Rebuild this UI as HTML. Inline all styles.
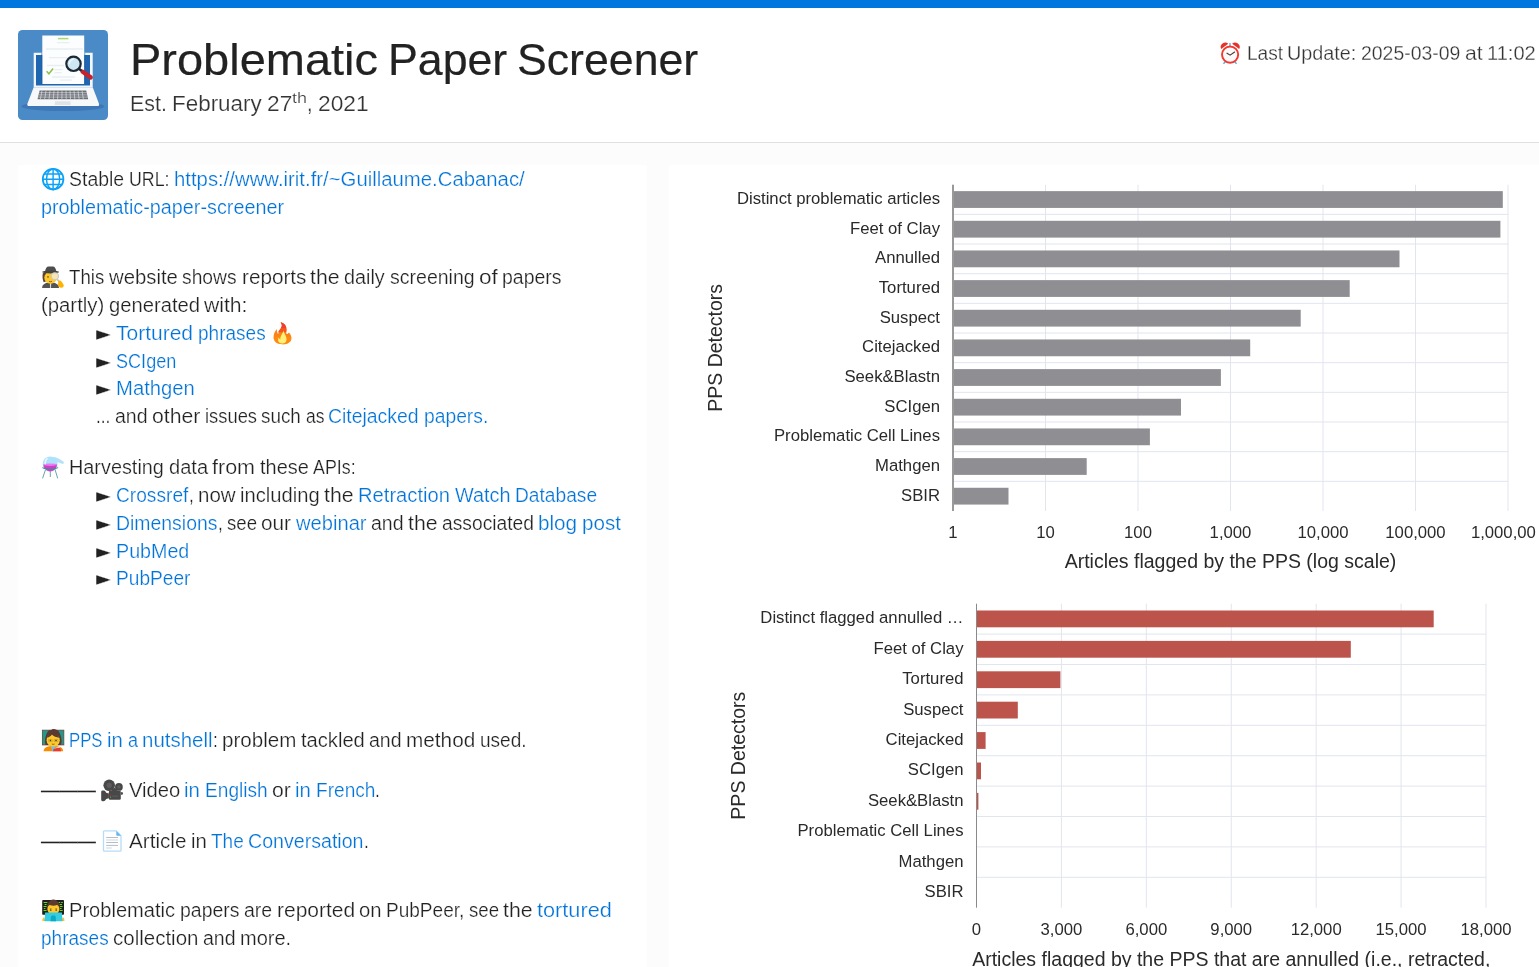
<!DOCTYPE html>
<html lang="en"><head><meta charset="utf-8"><title>Problematic Paper Screener</title>
<style>

html,body{margin:0;padding:0;}
body{width:1539px;height:967px;overflow:hidden;background:#fcfcfc;font-family:"Liberation Sans", sans-serif;color:#222;font-size:19.5px;line-height:27.86px;position:relative;word-spacing:-0.0487em;-webkit-text-stroke:0.245px #fff;}
a{color:#0074d9;text-decoration:none;}
.topbar{position:absolute;left:0;top:0;width:1539px;height:8px;background:#0077de;}
header{position:absolute;left:0;top:8px;width:1539px;height:134px;background:#fff;border-bottom:1px solid #e0e0e0;}
h1{position:absolute;left:130px;top:25px;margin:0;font-weight:400;font-size:44px;line-height:54px;white-space:pre;color:#222;-webkit-text-stroke:0.2px #222;word-spacing:-0.0487em;}
.sub{position:absolute;left:130px;top:81px;font-size:22.4px;line-height:30px;white-space:pre;color:#333;-webkit-text-stroke-width:0.2px;word-spacing:-0.0487em;}
.sub sup{font-size:15.5px;line-height:0;}
.upd{position:absolute;right:3.2px;top:31px;font-size:19.5px;line-height:28px;white-space:pre;color:#333;-webkit-text-stroke-width:0.27px;}
.card{position:absolute;top:165px;background:#fff;border-radius:3px;}
#left{left:18px;width:629px;height:820px;}
#right{left:669px;width:900px;height:820px;}
.ln{position:absolute;white-space:pre;height:27.86px;}
.w{display:inline-block;transform-origin:0 50%;white-space:pre;}
.p{font-family:"DejaVu Sans", sans-serif;margin-right:0.8px;}
.d{display:inline-block;width:54.7px;height:20px;vertical-align:baseline;}
.d span{display:inline-block;transform:scaleX(0.9385);transform-origin:0 50%;-webkit-text-stroke:0.15px #222;}
.e{display:inline-block;width:24px;height:1px;position:relative;}
.e svg{position:absolute;left:0;top:-18px;overflow:visible;}
#charts{position:absolute;left:0;top:0;word-spacing:0;-webkit-text-stroke:0;}

</style></head>
<body>
<div class="topbar"></div>
<header>
<svg id="logo" width="90" height="90" viewBox="0 0 90 90" style="position:absolute;left:18px;top:22px">
<rect width="90" height="90" rx="4.500" fill="#498ac7"/>
<g style="filter:blur(0.3px)">
<ellipse cx="45" cy="76.300" rx="41.500" ry="4.800" fill="#3e76b6"/>
<path d="M15.700 22.800h59v34.400h-59z" fill="#f4f7fa"/>
<path d="M18 25h54v30.600H18z" fill="#1f66b1"/>
<path d="M24.300 5.400h41.900V54H24.300z" fill="#fbfdfe"/>
<path d="M23.200 23h1.100v31h-1.100zM66.200 23h1.100v31h-1.100z" fill="#1a5a9e" opacity=".55"/>
<path d="M40 8.600h10.400" stroke="#a8da6c" stroke-width="1.500"/>
<path d="M39 12.600h12.500M28 19h37M31 27.600h18M29 35.500h17M36.500 39.600h8M36.500 42.600h7M34 47h23M42 50.200h12" stroke="#e9eef2" stroke-width="1.300"/>
<path d="M28.600 41.200l2.300 2.600 4.200-5.300" fill="none" stroke="#8bc34a" stroke-width="1.500"/>
<path d="M15.700 57.200h59l6.300 16.600c.5 1.400-.3 2.300-1.700 2.300H11.100c-1.400 0-2.200-.9-1.700-2.300z" fill="#f7f8fa"/>
<path d="M21.600 60.600h46.600l2 8.600H19.500z" fill="#6a6f76"/>
<path d="M21.400 62.700h47.300M20.800 64.900h48.400M20.200 67.100h49.600" stroke="#f0f1f3" stroke-width=".55"/>
<path d="M24 60.600l-1.600 8.600M28 60.600l-1.300 8.600M32 60.600l-1 8.600M36 60.600l-.7 8.600M40 60.600l-.4 8.600M44 60.600l-.1 8.600M48 60.600l.2 8.600M52 60.600l.5 8.600M56 60.600l.8 8.600M60 60.600l1.100 8.600M64 60.600l1.400 8.600" stroke="#eceef0" stroke-width=".6"/>
<path d="M37 71.200h15.400l.4 3.800H36.600z" fill="#dfe3e8"/>
<path d="M64.700 41.800l8 5.600" stroke="#c8222b" stroke-width="4.400" stroke-linecap="round"/>
<path d="M60.300 38.300l3.200 2.500" stroke="#1d2b3a" stroke-width="2.600"/>
<circle cx="55.500" cy="33.800" r="7.200" fill="#cfe7f3" stroke="#1b2836" stroke-width="2.200"/>
<path d="M51.500 33.500c.2-2.300 1.800-3.900 3.800-4.200" stroke="#eef8fc" stroke-width="1.300" fill="none" stroke-linecap="round"/>
</g>
</svg>
<h1 id="h1"><span class="w" style="width:248.00px;transform:scaleX(1.0675)">Problematic</span><span> </span><span class="w" style="width:119.22px;transform:scaleX(1.0153)">Paper</span><span> </span><span class="w" style="width:181.23px;transform:scaleX(1.0150)">Screener</span></h1>
<div class="sub" id="sub"><span class="w" style="width:36.86px;transform:scaleX(0.9554)">Est.</span><span> </span><span class="w" style="width:89.77px;transform:scaleX(1.0018)">February</span><span> </span><span class="w" style="width:25.26px;transform:scaleX(1.0141)">27</span><sup><span class="w" style="width:14.96px;transform:scaleX(1.1570)">th</span></sup><span class="w" style="width:5.51px;transform:scaleX(0.8830)">,</span><span> </span><span class="w" style="width:50.52px;transform:scaleX(1.0143)">2021</span></div>
<div class="upd" id="upd"><span class="e"><svg width="24" height="24" viewBox="0 0 24 24"><path d="M11.100 1.900h1.800v3.200h-1.800z" fill="#7fc4e2"/><path d="M6.600 20.200l-1.900 2.600h1.900l1.500-2zM17.400 20.200l1.900 2.600h-1.900l-1.500-2z" fill="#5aa9cf"/><path d="M3.200 8.100a4.500 4.500 0 0 1 7.100-5.300z" fill="#e5322b"/><path d="M21.200 8.100a4.500 4.500 0 0 0-7.100-5.300z" fill="#e5322b"/><circle cx="12.100" cy="13.600" r="8.100" fill="#fafafa" stroke="#f2392f" stroke-width="1.900"/><path d="M9 12.200L12.100 14.100L16.600 11" fill="none" stroke="#4e342e" stroke-width="1.100" stroke-linecap="round" stroke-linejoin="round"/></svg></span><span> </span><span class="w" style="width:36.11px;transform:scaleX(0.9797)">Last</span><span> </span><span class="w" style="width:69.35px;transform:scaleX(1.0152)">Update:</span><span> </span><span class="w" style="width:99.26px;transform:scaleX(0.9951)">2025-03-09</span><span> </span><span class="w" style="width:17.69px;transform:scaleX(1.0879)">at</span><span> </span><span class="w" style="width:48.79px;transform:scaleX(1.0302)">11:02</span></div>
</header>
<div class="card" id="left"></div><div class="card" id="right"></div>
<div class="ln" style="top:166.00px;left:41px"><span class="e"><svg width="24" height="24" viewBox="0 0 24 24"><g fill="none" stroke="#0ba2f8" stroke-width="1.45"><circle cx="12.1" cy="12.2" r="10.3" fill="#fff" stroke-width="1.8"/><ellipse cx="12.1" cy="12.2" rx="6.6" ry="10.3"/><path d="M12.1 1.8V22.6M1.7 12.2H22.5M3.4 6.9H20.8M3.4 17.5H20.8"/></g></svg></span><span><span> </span><span class="w" style="width:55.16px;transform:scaleX(0.9975)">Stable</span><span> </span><span class="w" style="width:40.54px;transform:scaleX(0.9122)">URL:</span><span> </span></span><a><span class="w" style="width:350.72px;transform:scaleX(1.0422)">https://www.irit.fr/~Guillaume.Cabanac/</span></a></div>
<div class="ln" style="top:193.86px;left:41px"><a><span class="w" style="width:243.02px;transform:scaleX(1.0146)">problematic-paper-screener</span></a></div>
<div class="ln" style="top:264.00px;left:41px"><span class="e"><svg width="24" height="24" viewBox="0 0 24 24"><path d="M1.900 8c-.700 3-.500 6.300 .800 9.200l3.500-1.200V8z" fill="#5d4037"/><path d="M1.100 23c0-3.600 3-5.500 8.400-5.500s8.500 1.900 8.500 5.500z" fill="#545454"/><path d="M8.900 18.300h1.300l-.2 4.700h-.9z" fill="#dcdcdc"/><ellipse cx="9.600" cy="12.700" rx="6.300" ry="6.100" fill="#ffca28"/><ellipse cx="7" cy="11.900" rx=".9" ry=".7" fill="#4e3b2e"/><path d="M8 16.300q1.500 .9 3 0" stroke="#7a4a1e" stroke-width=".8" fill="none"/><path d="M4 7c.3-3.600 1.700-5.600 3.500-5.600 1 0 1.500 .2 2.200 .2s1.200-.2 2.200-.2c1.800 0 3.200 2 3.500 5.600z" fill="#4d4d4d"/><ellipse cx="9.600" cy="7" rx="8.500" ry="1.400" fill="#434343"/><path d="M16.200 14.200l2.800 3.400" stroke="#bdbdbd" stroke-width="1.500"/><circle cx="13.900" cy="11.300" r="3.600" fill="#f7e6b0" stroke="#c9c9c9" stroke-width="1.100"/><path d="M17.300 16.200c1.200-1 2.300-.9 3 0l2.200 3.300c.700 1.500-.200 3.100-2 3.300-1.800 .2-3.400-1.300-3.500-3z" fill="#ffb300"/></svg></span><span><span> </span><span class="w" style="width:35.19px;transform:scaleX(0.9552)">This</span><span> </span><span class="w" style="width:68.87px;transform:scaleX(1.0414)">website</span><span> </span><span class="w" style="width:54.59px;transform:scaleX(0.9875)">shows</span><span> </span><span class="w" style="width:64.47px;transform:scaleX(1.0621)">reports</span><span> </span><span class="w" style="width:29.56px;transform:scaleX(1.0904)">the</span><span> </span><span class="w" style="width:40.67px;transform:scaleX(1.0142)">daily</span><span> </span><span class="w" style="width:84.66px;transform:scaleX(1.0011)">screening</span><span> </span><span class="w" style="width:18.84px;transform:scaleX(1.1580)">of</span><span> </span><span class="w" style="width:59.47px;transform:scaleX(0.9975)">papers</span></span></div>
<div class="ln" style="top:291.86px;left:41px"><span><span class="w" style="width:63.23px;transform:scaleX(1.0422)">(partly)</span><span> </span><span class="w" style="width:91.08px;transform:scaleX(1.0370)">generated</span><span> </span><span class="w" style="width:43.47px;transform:scaleX(1.0838)">with:</span></span></div>
<div class="ln" style="top:319.72px;left:96px"><span class="p">►</span><span><span> </span></span><a><span class="w" style="width:77.04px;transform:scaleX(1.0769)">Tortured</span><span> </span><span class="w" style="width:67.64px;transform:scaleX(0.9749)">phrases</span></a><span><span> </span></span><span class="e"><svg width="24" height="24" viewBox="0 0 24 24"><g transform="translate(-0.7 0.2)"><path d="M11.300 1c3.600 .8 5.900 3.700 5.900 7.300 0 1.500-.4 2.700-.2 3.700 .3 1.100 1.700 .900 2.600-.6 2 2.100 2.700 4.300 2.400 6.400-.5 3.200-3.500 5.300-8.700 5.300-5.500 0-8.800-2.600-9-6.700-.100-3 1.100-5.900 3.200-8.500-.1 2 .3 3.900 1.400 5.200 .4-4.100 3.700-5.900 3.700-9.100 0-1.100-.5-2.100-1.300-3z" fill="#fd8213"/><path d="M11.300 1c3.600 .8 5.900 3.700 5.900 7.300 0 1-.2 1.900-.3 2.700H8.600c1.300-2.400 4-4.300 4-7 0-1.100-.5-2.100-1.300-3z" fill="#f5561f"/><path d="M11.300 1c3.100 .7 5.200 2.900 5.700 5.800H11.800c.5-.9 .8-1.800 .8-2.800 0-1.100-.5-2.100-1.300-3z" fill="#ee4030"/><path d="M22 15.500c.1 .8 .1 1.500 0 2.300-.5 3.200-3.500 5.300-8.700 5.300-5.500 0-8.800-2.600-9-6.700 0-.3 0-.6 0-.9z" fill="#ff9410" opacity=".55"/><path d="M14.400 9c-.3 2.800 2.800 5.300 2.800 9.300 0 2.600-1.700 3.900-4.200 3.900s-4.200-1.300-4.200-3.500c0-.9 .3-1.700 .8-2.400 .2 1 .8 1.700 1.500 1.900-.4-3.600 2.400-5.600 3.300-9.200z" fill="#fff27a"/></g></svg></span></div>
<div class="ln" style="top:347.58px;left:96px"><span class="p">►</span><span><span> </span></span><a><span class="w" style="width:60.28px;transform:scaleX(0.9268)">SCIgen</span></a></div>
<div class="ln" style="top:375.44px;left:96px"><span class="p">►</span><span><span> </span></span><a><span class="w" style="width:78.89px;transform:scaleX(1.0395)">Mathgen</span></a></div>
<div class="ln" style="top:403.30px;left:96px"><span><span class="w" style="width:14.41px;transform:scaleX(0.8857)">...</span><span> </span><span class="w" style="width:32.57px;transform:scaleX(1.0006)">and</span><span> </span><span class="w" style="width:48.38px;transform:scaleX(1.0884)">other</span><span> </span><span class="w" style="width:52.03px;transform:scaleX(0.9412)">issues</span><span> </span><span class="w" style="width:39.81px;transform:scaleX(0.9660)">such</span><span> </span><span class="w" style="width:18.50px;transform:scaleX(0.8976)">as</span><span> </span></span><a><span class="w" style="width:90.61px;transform:scaleX(0.9952)">Citejacked</span><span> </span><span class="w" style="width:64.27px;transform:scaleX(0.9882)">papers.</span></a></div>
<div class="ln" style="top:454.00px;left:41px"><span class="e"><svg width="24" height="24" viewBox="0 0 24 24"><path d="M4.600 14.400L1.700 23M9.300 16.400V21.600M14 14.400l2.600 8.600" stroke="#6aa3b2" stroke-width="1" fill="none" stroke-linecap="round"/><path d="M11.300 1.700c4.200 .3 8.500 2.600 11.300 5 .9 .9-.2 2.600-1.500 2.100-2.300-.9-3.800-1.600-5.600-1.900z" fill="#b4e3f9"/><circle cx="9.200" cy="8.900" r="7.500" fill="#aee2fa"/><path d="M2.500 9.600h13.400c.1 3.800-3 6.800-6.700 6.800s-6.800-3-6.700-6.800z" fill="#c545c4"/><ellipse cx="9.200" cy="9.700" rx="6.700" ry="1.300" fill="#f177f3"/><path d="M4.200 8.700c-.2-2.300 .6-4.100 1.900-5.100" stroke="#e6f6fe" stroke-width="1.500" fill="none" stroke-linecap="round"/><path d="M1.700 12.300c0 2.200 15.200 2.200 15.200 0" fill="none" stroke="#3f8c98" stroke-width="1.100"/></svg></span><span><span> </span><span class="w" style="width:94.89px;transform:scaleX(1.0179)">Harvesting</span><span> </span><span class="w" style="width:39.08px;transform:scaleX(1.0298)">data</span><span> </span><span class="w" style="width:43.04px;transform:scaleX(1.1036)">from</span><span> </span><span class="w" style="width:48.80px;transform:scaleX(1.0231)">these</span><span> </span><span class="w" style="width:42.59px;transform:scaleX(0.9138)">APIs:</span></span></div>
<div class="ln" style="top:481.86px;left:96px"><span class="p">►</span><span><span> </span></span><a><span class="w" style="width:72.39px;transform:scaleX(0.9825)">Crossref</span></a><span><span class="w" style="width:4.81px;transform:scaleX(0.8858)">,</span><span> </span><span class="w" style="width:37.65px;transform:scaleX(1.0520)">now</span><span> </span><span class="w" style="width:79.69px;transform:scaleX(1.0351)">including</span><span> </span><span class="w" style="width:29.56px;transform:scaleX(1.0904)">the</span><span> </span></span><a><span class="w" style="width:91.95px;transform:scaleX(1.0347)">Retraction</span><span> </span><span class="w" style="width:55.50px;transform:scaleX(1.0174)">Watch</span><span> </span><span class="w" style="width:82.11px;transform:scaleX(0.9835)">Database</span></a></div>
<div class="ln" style="top:509.72px;left:96px"><span class="p">►</span><span><span> </span></span><a><span class="w" style="width:101.45px;transform:scaleX(0.9959)">Dimensions</span></a><span><span class="w" style="width:4.81px;transform:scaleX(0.8875)">,</span><span> </span><span class="w" style="width:30.00px;transform:scaleX(0.9539)">see</span><span> </span><span class="w" style="width:29.94px;transform:scaleX(1.0621)">our</span><span> </span></span><a><span class="w" style="width:70.57px;transform:scaleX(1.0332)">webinar</span></a><span><span> </span><span class="w" style="width:32.58px;transform:scaleX(1.0012)">and</span><span> </span><span class="w" style="width:29.56px;transform:scaleX(1.0904)">the</span><span> </span><span class="w" style="width:91.98px;transform:scaleX(0.9866)">associated</span><span> </span></span><a><span class="w" style="width:39.14px;transform:scaleX(1.0613)">blog</span><span> </span><span class="w" style="width:38.96px;transform:scaleX(1.0570)">post</span></a></div>
<div class="ln" style="top:537.58px;left:96px"><span class="p">►</span><span><span> </span></span><a><span class="w" style="width:73.32px;transform:scaleX(1.0094)">PubMed</span></a></div>
<div class="ln" style="top:565.44px;left:96px"><span class="p">►</span><span><span> </span></span><a><span class="w" style="width:74.40px;transform:scaleX(0.9804)">PubPeer</span></a></div>
<div class="ln" style="top:727.00px;left:41px"><span class="e"><svg width="24" height="24" viewBox="0 0 24 24"><rect x="1.400" y="2.200" width="21.400" height="14.700" fill="#1a9c90" stroke="#6d4c41" stroke-width=".9"/><path d="M4.600 16.900c-.900-2.300-.700-5.300-.1-7.900 .9-3.900 2.400-6.500 4.600-7.300l.5 .8c.8-.9 1.800-1.500 3-1.500 4.200 0 6.500 3.600 7.500 8 .6 2.600 .8 5.600-.1 7.900z" fill="#5a3a31"/><path d="M2.600 23.300c.1-3.500 3.300-5.300 9.800-5.300s9.700 1.800 9.800 5.300z" fill="#fb8c00"/><path d="M9.800 18h4.800l-1.400 5.300h-1.800z" fill="#6ec1ea"/><path d="M12.500 21l6.200-2 1.400 4.300h-8z" fill="#e53935"/><path d="M13 20.400l5.700-1.800 .3 .9z" fill="#f5f5f5"/><ellipse cx="12.200" cy="12.300" rx="6.600" ry="6.300" fill="#ffca28"/><path d="M6.300 9.800c1.600-.4 3.600-1.700 4.600-3.300 1.600 1.800 4.600 3 7.200 3.200-.5-2.600-2.600-4.300-5.900-4.300s-5.400 1.700-5.900 4.400z" fill="#5a3a31"/><path d="M7.400 11.400h3.800v2.200h-3.800zM13.200 11.400h3.800v2.200h-3.800z" fill="none" stroke="#c9a227" stroke-width=".7"/><circle cx="9.400" cy="12.500" r=".8" fill="#3e3a36"/><circle cx="15" cy="12.500" r=".8" fill="#3e3a36"/><path d="M10.800 16q1.400 .8 2.800 0" stroke="#7a4a1e" stroke-width=".8" fill="none"/></svg></span><span><span> </span></span><a><span class="w" style="width:33.55px;transform:scaleX(0.8596)">PPS</span><span> </span><span class="w" style="width:15.88px;transform:scaleX(1.0454)">in</span><span> </span><span class="w" style="width:10.03px;transform:scaleX(0.9244)">a</span><span> </span><span class="w" style="width:70.56px;transform:scaleX(1.0497)">nutshell</span></a><span><span class="w" style="width:4.81px;transform:scaleX(0.8875)">:</span><span> </span><span class="w" style="width:74.30px;transform:scaleX(1.0545)">problem</span><span> </span><span class="w" style="width:63.84px;transform:scaleX(1.0330)">tackled</span><span> </span><span class="w" style="width:32.58px;transform:scaleX(1.0009)">and</span><span> </span><span class="w" style="width:69.22px;transform:scaleX(1.0643)">method</span><span> </span><span class="w" style="width:46.58px;transform:scaleX(0.9765)">used.</span></span></div>
<div class="ln" style="top:777.00px;left:41px"><span class="d"><span>———</span></span><span><span> </span></span><span class="e"><svg width="24" height="24" viewBox="0 0 24 24"><g fill="#484848"><circle cx="9.200" cy="7.300" r="5.800"/><circle cx="18.900" cy="8.900" r="3.900"/><path d="M11 13.200l3.600-3.800 3.200 3.800z"/><rect x="8.800" y="12.700" width="12" height="9.100" rx="1.200"/><path d="M8.900 15.600L6.200 14.700C5.200 13.100 4.700 12.600 3.500 12.600H2.600C1.700 12.600 1.200 13.200 1.200 14V21.800C1.200 22.600 1.700 23.200 2.600 23.200H3.500C4.700 23.200 5.200 22.700 6.200 21.100L8.900 20.200z"/><ellipse cx="21.900" cy="15.500" rx="1" ry="1.400"/></g><circle cx="9.200" cy="7.300" r="2.600" fill="#5c5c5c"/><circle cx="18.900" cy="8.900" r="1.700" fill="#5c5c5c"/><rect x="10" y="16.700" width="1.100" height="1.500" fill="#c62828"/><rect x="10" y="18.500" width="1.100" height="1.400" fill="#43a047"/><rect x="12.200" y="17.400" width="6" height="1.700" fill="#555"/></svg></span><span><span> </span><span class="w" style="width:51.32px;transform:scaleX(1.0361)">Video</span><span> </span></span><a><span class="w" style="width:15.88px;transform:scaleX(1.0461)">in</span><span> </span><span class="w" style="width:62.73px;transform:scaleX(0.9806)">English</span></a><span><span> </span><span class="w" style="width:18.81px;transform:scaleX(1.0848)">or</span><span> </span></span><a><span class="w" style="width:15.88px;transform:scaleX(1.0454)">in</span><span> </span><span class="w" style="width:59.41px;transform:scaleX(0.9787)">French</span></a><span><span class="w" style="width:4.81px;transform:scaleX(0.8875)">.</span></span></div>
<div class="ln" style="top:828.00px;left:41px"><span class="d"><span>———</span></span><span><span> </span></span><span class="e"><svg width="24" height="24" viewBox="0 0 24 24"><path d="M4.300 1.900h12l4.700 4.800v14.700c0 .5-.3 .8-.8 .8H4.300c-.5 0-.8-.3-.8-.8V2.700c0-.5 .3-.8 .8-.8z" fill="#fff" stroke="#b5dcf7" stroke-width="1.300"/><path d="M16.300 1.900l4.700 4.800h-4c-.4 0-.7-.3-.7-.7z" fill="#62b4ee"/><path d="M6.200 8.500h11.800M6.200 13.500h11.800M6.200 16.400h11.800" stroke="#b3bec6" stroke-width="1"/><path d="M6.200 11h11.800M6.200 18.900h5.600" stroke="#dfe5e9" stroke-width="1.500"/></svg></span><span><span> </span><span class="w" style="width:57.42px;transform:scaleX(1.0598)">Article</span><span> </span><span class="w" style="width:15.87px;transform:scaleX(1.0448)">in</span><span> </span></span><a><span class="w" style="width:32.75px;transform:scaleX(0.9744)">The</span><span> </span><span class="w" style="width:115.50px;transform:scaleX(1.0052)">Conversation</span></a><span><span class="w" style="width:4.81px;transform:scaleX(0.8875)">.</span></span></div>
<div class="ln" style="top:897.00px;left:41px"><span class="e"><svg width="24" height="24" viewBox="0 0 24 24"><rect x="1.200" y="2.100" width="21.800" height="14.600" rx=".8" fill="#1f1f1f"/><path d="M2.600 4.500h3.800M3.600 6.500h2M2.600 8.500h3M2.900 10.500h1.500M2.600 12.500h3M17.600 4.500h1.600M20.200 4.500h1.600M18.600 6.500h2.400M18.900 8.500h2.700M18.600 10.500h2M18.600 12.500h3" stroke="#63e00f" stroke-width="1.100"/><path d="M5.800 12.500c-.5-5.800 2.200-10.900 6.600-10.900s7.100 5.100 6.600 10.900z" fill="#5a3a31"/><path d="M6.500 11c0-2.200 1-3.600 2.300-3.900 2.300 1 4.900 1 7.200 0 1.300 .3 2.300 1.700 2.300 3.900 0 3.500-2.600 5.700-5.900 5.700s-5.900-2.200-5.900-5.700z" fill="#ffca28"/><circle cx="9.700" cy="12" r=".85" fill="#3b4150"/><circle cx="15.200" cy="12" r=".85" fill="#3b4150"/><path d="M8.800 10.500h1.800M14.300 10.500h1.800" stroke="#b58a2a" stroke-width=".9"/><path d="M3.100 19.300c-1.400 .5-2 2.200-1.700 3.800h3zM21.700 19.300c1.400 .5 2 2.200 1.700 3.800h-3z" fill="#fbc02d"/><path d="M4.100 14.400h16.800l.6 8.800H3.500z" fill="#35cbe0"/><path d="M10 18.300c0-1.100 4.600-1.100 4.600 0l.5 4.900H9.500z" fill="#07adc6"/></svg></span><span><span> </span><span class="w" style="width:106.05px;transform:scaleX(1.0299)">Problematic</span><span> </span><span class="w" style="width:59.47px;transform:scaleX(0.9975)">papers</span><span> </span><span class="w" style="width:28.17px;transform:scaleX(0.9993)">are</span><span> </span><span class="w" style="width:78.14px;transform:scaleX(1.0757)">reported</span><span> </span><span class="w" style="width:22.55px;transform:scaleX(1.0392)">on</span><span> </span><span class="w" style="width:78.29px;transform:scaleX(0.9758)">PubPeer,</span><span> </span><span class="w" style="width:30.00px;transform:scaleX(0.9539)">see</span><span> </span><span class="w" style="width:29.56px;transform:scaleX(1.0904)">the</span><span> </span></span><a><span class="w" style="width:74.77px;transform:scaleX(1.1126)">tortured</span></a></div>
<div class="ln" style="top:924.86px;left:41px"><a><span class="w" style="width:67.64px;transform:scaleX(0.9749)">phrases</span></a><span><span> </span><span class="w" style="width:85.42px;transform:scaleX(1.0507)">collection</span><span> </span><span class="w" style="width:32.58px;transform:scaleX(1.0009)">and</span><span> </span><span class="w" style="width:51.17px;transform:scaleX(1.0265)">more.</span></span></div>
<svg id="charts" width="1536" height="967" viewBox="0 0 1536 967" font-family="Liberation Sans, Arial, Helvetica, sans-serif">
<path d="M1045.5 184.7V511M1138 184.7V511M1230.5 184.7V511M1323 184.7V511M1415.5 184.7V511M1508 184.7V511M953 214.36H1508M953 244.03H1508M953 273.69H1508M953 303.35H1508M953 333.02H1508M953 362.68H1508M953 392.35H1508M953 422.01H1508M953 451.67H1508M953 481.34H1508" stroke="#e1e5ee" stroke-width="1" fill="none"/>
<rect x="954" y="191.13" width="548.8" height="16.8" fill="#8f8e93"/>
<rect x="954" y="220.8" width="546.4" height="16.8" fill="#8f8e93"/>
<rect x="954" y="250.46" width="445.5" height="16.8" fill="#8f8e93"/>
<rect x="954" y="280.12" width="395.7" height="16.8" fill="#8f8e93"/>
<rect x="954" y="309.79" width="346.7" height="16.8" fill="#8f8e93"/>
<rect x="954" y="339.45" width="296.2" height="16.8" fill="#8f8e93"/>
<rect x="954" y="369.11" width="266.9" height="16.8" fill="#8f8e93"/>
<rect x="954" y="398.78" width="227" height="16.8" fill="#8f8e93"/>
<rect x="954" y="428.44" width="195.9" height="16.8" fill="#8f8e93"/>
<rect x="954" y="458.1" width="132.7" height="16.8" fill="#8f8e93"/>
<rect x="954" y="487.77" width="54.5" height="16.8" fill="#8f8e93"/>
<rect x="952" y="184.7" width="2" height="326.3" fill="#999999"/>
<g font-size="16.7" text-anchor="end" fill="#2a2a2a">
<text x="940" y="204.03">Distinct problematic articles</text>
<text x="940" y="233.7">Feet of Clay</text>
<text x="940" y="263.36">Annulled</text>
<text x="940" y="293.02">Tortured</text>
<text x="940" y="322.69">Suspect</text>
<text x="940" y="352.35">Citejacked</text>
<text x="940" y="382.01">Seek&amp;Blastn</text>
<text x="940" y="411.68">SCIgen</text>
<text x="940" y="441.34">Problematic Cell Lines</text>
<text x="940" y="471">Mathgen</text>
<text x="940" y="500.67">SBIR</text>
</g>
<g font-size="16.7" text-anchor="middle" fill="#2a2a2a">
<text x="953" y="537.9">1</text>
<text x="1045.5" y="537.9">10</text>
<text x="1138" y="537.9">100</text>
<text x="1230.5" y="537.9">1,000</text>
<text x="1323" y="537.9">10,000</text>
<text x="1415.5" y="537.9">100,000</text>
<text x="1508" y="537.9">1,000,000</text>
</g>
<text x="1230.5" y="567.8" font-size="19.5" text-anchor="middle" fill="#2a2a2a">Articles flagged by the PPS (log scale)</text>
<text transform="translate(721.5 347.85) rotate(-90)" font-size="19.5" text-anchor="middle" fill="#2a2a2a">PPS Detectors</text>
<path d="M1061.42 603.7V907.7M1146.33 603.7V907.7M1231.25 603.7V907.7M1316.17 603.7V907.7M1401.08 603.7V907.7M1486 603.7V907.7M976.5 634.1H1486M976.5 664.5H1486M976.5 694.9H1486M976.5 725.3H1486M976.5 755.7H1486M976.5 786.1H1486M976.5 816.5H1486M976.5 846.9H1486M976.5 877.3H1486" stroke="#e1e5ee" stroke-width="1" fill="none"/>
<rect x="977" y="610.5" width="456.7" height="16.8" fill="#bc544b"/>
<rect x="977" y="640.9" width="373.8" height="16.8" fill="#bc544b"/>
<rect x="977" y="671.3" width="83.4" height="16.8" fill="#bc544b"/>
<rect x="977" y="701.7" width="40.8" height="16.8" fill="#bc544b"/>
<rect x="977" y="732.1" width="8.6" height="16.8" fill="#bc544b"/>
<rect x="977" y="762.5" width="4" height="16.8" fill="#bc544b"/>
<rect x="977" y="792.9" width="1.4" height="16.8" fill="#bc544b"/>
<rect x="976" y="603.7" width="1" height="304" fill="#8a8a8a"/>
<g font-size="16.7" text-anchor="end" fill="#2a2a2a">
<text x="963.5" y="623.4">Distinct flagged annulled …</text>
<text x="963.5" y="653.8">Feet of Clay</text>
<text x="963.5" y="684.2">Tortured</text>
<text x="963.5" y="714.6">Suspect</text>
<text x="963.5" y="745">Citejacked</text>
<text x="963.5" y="775.4">SCIgen</text>
<text x="963.5" y="805.8">Seek&amp;Blastn</text>
<text x="963.5" y="836.2">Problematic Cell Lines</text>
<text x="963.5" y="866.6">Mathgen</text>
<text x="963.5" y="897">SBIR</text>
</g>
<g font-size="16.7" text-anchor="middle" fill="#2a2a2a">
<text x="976.5" y="935.1">0</text>
<text x="1061.42" y="935.1">3,000</text>
<text x="1146.33" y="935.1">6,000</text>
<text x="1231.25" y="935.1">9,000</text>
<text x="1316.17" y="935.1">12,000</text>
<text x="1401.08" y="935.1">15,000</text>
<text x="1486" y="935.1">18,000</text>
</g>
<text x="1231.25" y="966.3" font-size="19.5" text-anchor="middle" fill="#2a2a2a">Articles flagged by the PPS that are annulled (i.e., retracted,</text>
<text x="1231.25" y="990.3" font-size="19.5" text-anchor="middle" fill="#2a2a2a">withdrawn, removed, or with an expression of concern)</text>
<text transform="translate(744.5 755.7) rotate(-90)" font-size="19.5" text-anchor="middle" fill="#2a2a2a">PPS Detectors</text>
</svg>
</body></html>
